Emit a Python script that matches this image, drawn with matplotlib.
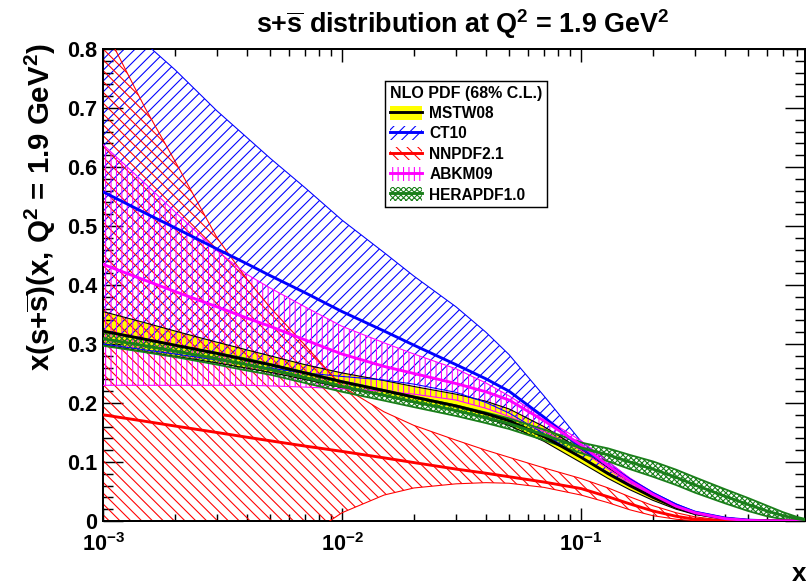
import numpy as np
import matplotlib
matplotlib.use("Agg")
import matplotlib.pyplot as plt
from matplotlib.patches import Patch
from matplotlib.lines import Line2D
from matplotlib.ticker import MultipleLocator, LogLocator, FuncFormatter, NullFormatter

# ---------------- data: x(s+sbar) at Q^2 = 1.9 GeV^2 ----------------
x_grid = [0.001, 0.0015, 0.002, 0.003, 0.004, 0.005, 0.007, 0.01, 0.015, 0.02,
          0.03, 0.04, 0.05, 0.07, 0.1, 0.13, 0.16, 0.2, 0.25, 0.3,
          0.4, 0.5, 0.6, 0.7, 0.8, 0.9]

mstw_central = [0.322, 0.308, 0.298, 0.284, 0.273, 0.265, 0.251, 0.236, 0.221, 0.210,
                0.195, 0.182, 0.170, 0.143, 0.108, 0.080, 0.060, 0.040, 0.023, 0.013,
                0.004, 0.001, 0.0003, 0.0, 0.0, 0.0]
mstw_upper = [0.355, 0.336, 0.322, 0.303, 0.290, 0.280, 0.265, 0.251, 0.238, 0.228,
              0.215, 0.203, 0.190, 0.160, 0.121, 0.090, 0.067, 0.045, 0.027, 0.015,
              0.005, 0.0015, 0.0004, 0.0, 0.0, 0.0]
mstw_lower = [0.298, 0.287, 0.279, 0.268, 0.259, 0.252, 0.240, 0.226, 0.212, 0.201,
              0.187, 0.174, 0.162, 0.135, 0.099, 0.072, 0.053, 0.035, 0.020, 0.011,
              0.003, 0.0008, 0.0002, 0.0, 0.0, 0.0]

ct10_central = [0.558, 0.522, 0.497, 0.461, 0.436, 0.416, 0.387, 0.355, 0.322, 0.298,
                0.265, 0.241, 0.220, 0.176, 0.125, 0.094, 0.070, 0.047, 0.027, 0.015,
                0.005, 0.0015, 0.0004, 0.0001, 0.0, 0.0]
ct10_upper = [0.900, 0.810, 0.765, 0.695, 0.650, 0.615, 0.565, 0.510, 0.455, 0.415,
              0.363, 0.320, 0.282, 0.212, 0.135, 0.100, 0.072, 0.048, 0.029, 0.016,
              0.006, 0.002, 0.0005, 0.0, 0.0, 0.0]
ct10_lower = [0.300, 0.290, 0.283, 0.273, 0.265, 0.259, 0.251, 0.245, 0.239, 0.232,
              0.218, 0.201, 0.183, 0.148, 0.108, 0.082, 0.062, 0.043, 0.024, 0.013,
              0.004, 0.001, 0.0, 0.0, 0.0, 0.0]

nnpdf_central = [0.180, 0.169, 0.161, 0.150, 0.142, 0.136, 0.127, 0.118, 0.107, 0.099,
                 0.088, 0.081, 0.075, 0.066, 0.055, 0.041, 0.029, 0.017, 0.008, 0.003,
                 0.0005, 0.0, 0.0, 0.0, 0.0, 0.0]
nnpdf_upper = [0.840, 0.700, 0.610, 0.480, 0.410, 0.362, 0.298, 0.228, 0.185, 0.162,
               0.137, 0.120, 0.108, 0.090, 0.072, 0.056, 0.041, 0.026, 0.014, 0.007,
               0.001, 0.0, 0.0, 0.0, 0.0, 0.0]
nnpdf_lower = [-0.300, -0.250, -0.200, -0.140, -0.100, -0.066, -0.028, 0.014, 0.044, 0.056,
               0.063, 0.065, 0.064, 0.057, 0.044, 0.031, 0.019, 0.009, 0.003, 0.0005,
               0.0, 0.0, 0.0, 0.0, 0.0, 0.0]

abkm_central = [0.435, 0.408, 0.389, 0.363, 0.344, 0.330, 0.307, 0.283, 0.262, 0.250,
                0.233, 0.219, 0.205, 0.170, 0.129, 0.094, 0.068, 0.045, 0.025, 0.014,
                0.004, 0.001, 0.0, 0.0, 0.0, 0.0]
abkm_upper = [0.638, 0.572, 0.524, 0.458, 0.418, 0.395, 0.363, 0.330, 0.302, 0.283,
              0.258, 0.234, 0.212, 0.175, 0.136, 0.100, 0.073, 0.048, 0.027, 0.015,
              0.005, 0.0013, 0.0, 0.0, 0.0, 0.0]
abkm_lower = [0.230, 0.230, 0.230, 0.230, 0.230, 0.229, 0.227, 0.224, 0.220, 0.215,
              0.205, 0.191, 0.177, 0.152, 0.120, 0.088, 0.063, 0.042, 0.023, 0.012,
              0.003, 0.0007, 0.0, 0.0, 0.0, 0.0]

hera_central = [0.309, 0.297, 0.288, 0.275, 0.265, 0.257, 0.243, 0.228, 0.213, 0.202,
                0.187, 0.175, 0.165, 0.146, 0.124, 0.112, 0.100, 0.088, 0.074, 0.061,
                0.042, 0.028, 0.017, 0.009, 0.004, 0.001]
hera_upper = [0.321, 0.308, 0.298, 0.285, 0.275, 0.266, 0.252, 0.237, 0.222, 0.211,
              0.196, 0.184, 0.174, 0.155, 0.133, 0.123, 0.112, 0.101, 0.087, 0.074,
              0.054, 0.039, 0.026, 0.015, 0.007, 0.002]
hera_lower = [0.297, 0.286, 0.278, 0.265, 0.255, 0.248, 0.234, 0.219, 0.204, 0.193,
              0.178, 0.166, 0.156, 0.137, 0.115, 0.101, 0.088, 0.075, 0.061, 0.048,
              0.030, 0.017, 0.008, 0.003, 0.001, 0.0]

# ---------------- styling ----------------
DPI = 130
plt.rcParams.update({
    "font.family": ["Liberation Sans", "DejaVu Sans"],
    "font.weight": "bold",
    "mathtext.fontset": "custom",
    "mathtext.rm": "Liberation Sans:bold",
    "mathtext.it": "Liberation Sans:bold",
    "mathtext.bf": "Liberation Sans:bold",
    "mathtext.sf": "Liberation Sans:bold",
    "mathtext.default": "rm",
    "hatch.linewidth": 0.6,
    "axes.linewidth": 1.1,
})

YELLOW = "#ffff00"
BLUE = "#0000ff"
RED = "#ff0000"
MAGENTA = "#ff00ff"
GREEN = "#1a7f1a"

H_CT10 = "////"
H_NNPDF = "\\\\\\\\"
H_ABKM = "||||"
H_HERA = "xxxxxxxx"

fig = plt.figure(figsize=(806 / DPI, 588 / DPI), dpi=DPI)
ax = fig.add_axes([103 / 806, 67 / 588, 702 / 806, 472 / 588])
ax.set_xscale("log")

x = np.array(x_grid)

# MSTW08: solid yellow band
ax.fill_between(x, mstw_lower, mstw_upper, facecolor=YELLOW, edgecolor="none", zorder=1)

# hatched bands
bands = [
    (ct10_lower, ct10_upper, BLUE, H_CT10),
    (nnpdf_lower, nnpdf_upper, RED, H_NNPDF),
    (abkm_lower, abkm_upper, MAGENTA, H_ABKM),
    (hera_lower, hera_upper, GREEN, H_HERA),
]
for lo, hi, col, hatch in bands:
    ax.fill_between(x, lo, hi, facecolor="none", edgecolor=col, hatch=hatch,
                    linewidth=0, zorder=2)

# band outlines
edges = [
    (mstw_lower, mstw_upper, "black", 0.6),
    (ct10_lower, ct10_upper, BLUE, 0.6),
    (nnpdf_lower, nnpdf_upper, RED, 0.6),
    (abkm_lower, abkm_upper, MAGENTA, 0.6),
    (hera_lower, hera_upper, GREEN, 1.0),
]
for lo, hi, col, lw in edges:
    ax.plot(x, lo, color=col, lw=lw, zorder=3)
    ax.plot(x, hi, color=col, lw=lw, zorder=3)

# central values
centrals = [
    (mstw_central, "black"),
    (ct10_central, BLUE),
    (nnpdf_central, RED),
    (abkm_central, MAGENTA),
    (hera_central, GREEN),
]
for c, col in centrals:
    ax.plot(x, c, color=col, lw=1.6, zorder=4)

ax.set_xlim(1e-3, 10 ** (-3 + 702 / 239))
ax.set_ylim(0, 0.8)

# ticks (inside, on all four sides)
ax.yaxis.set_major_locator(MultipleLocator(0.1))
ax.yaxis.set_minor_locator(MultipleLocator(0.02))
ax.yaxis.set_major_formatter(FuncFormatter(lambda v, p: "0" if abs(v) < 1e-9 else f"{v:.1f}"))
ax.xaxis.set_major_locator(LogLocator(base=10, numticks=10))
ax.xaxis.set_minor_locator(LogLocator(base=10, subs=np.arange(2, 10), numticks=20))
ax.xaxis.set_major_formatter(FuncFormatter(lambda v, p: r"$10^{%d}$" % int(round(np.log10(v)))))
ax.xaxis.set_minor_formatter(NullFormatter())

ax.tick_params(axis="both", which="both", direction="in", top=True, right=True,
               labelsize=12, width=0.8)
ax.tick_params(axis="y", which="major", length=11.0, pad=3.3)
ax.tick_params(axis="y", which="minor", length=5.5)
ax.tick_params(axis="x", which="major", length=7.2, pad=6.8)
ax.tick_params(axis="x", which="minor", length=3.9)

# titles
fig.text(463 / 806, 1 - 33 / 588, r"s+$\overline{\rm s}$ distribution at Q$^{2}$ = 1.9 GeV$^{2}$",
         ha="center", va="baseline", fontsize=14.9, fontweight="bold")
fig.text(40 / 806, 1 - 43 / 588, r"x(s+$\overline{\rm s}$)(x, Q$^{2}$ = 1.9 GeV$^{2}$)",
         rotation=90, ha="center", va="top", fontsize=16.3, fontweight="bold")
fig.text(806 / 806, 1 - 581 / 588, "x", ha="right", va="baseline", fontsize=14.4,
         fontweight="bold")

# legend
labels = ["MSTW08", "CT10", "NNPDF2.1", "ABKM09", "HERAPDF1.0"]
handles = [
    (Patch(facecolor=YELLOW, edgecolor="none", linewidth=0), Line2D([], [], color="black", lw=1.6)),
    (Patch(facecolor="none", edgecolor=BLUE, hatch=H_CT10, linewidth=0), Line2D([], [], color=BLUE, lw=1.6)),
    (Patch(facecolor="none", edgecolor=RED, hatch=H_NNPDF, linewidth=0), Line2D([], [], color=RED, lw=1.6)),
    (Patch(facecolor="none", edgecolor=MAGENTA, hatch=H_ABKM, linewidth=0), Line2D([], [], color=MAGENTA, lw=1.6)),
    (Patch(facecolor="none", edgecolor=GREEN, hatch=H_HERA, linewidth=0), Line2D([], [], color=GREEN, lw=1.6)),
]
leg = ax.legend(handles, labels, loc="upper left",
                bbox_to_anchor=((385 - 103) / 702, (521 - 81) / 472),
                title="NLO PDF (68% C.L.)", title_fontproperties={"weight": "bold", "size": 8.9},
                prop={"weight": "bold", "size": 8.6}, alignment="left",
                frameon=True, fancybox=False, framealpha=1, edgecolor="black",
                handlelength=2.1, handleheight=1.0, handletextpad=0.45,
                labelspacing=0.33, borderpad=0.3, borderaxespad=0)
leg.get_frame().set_linewidth(0.8)

fig.savefig("out.png", dpi=DPI)
